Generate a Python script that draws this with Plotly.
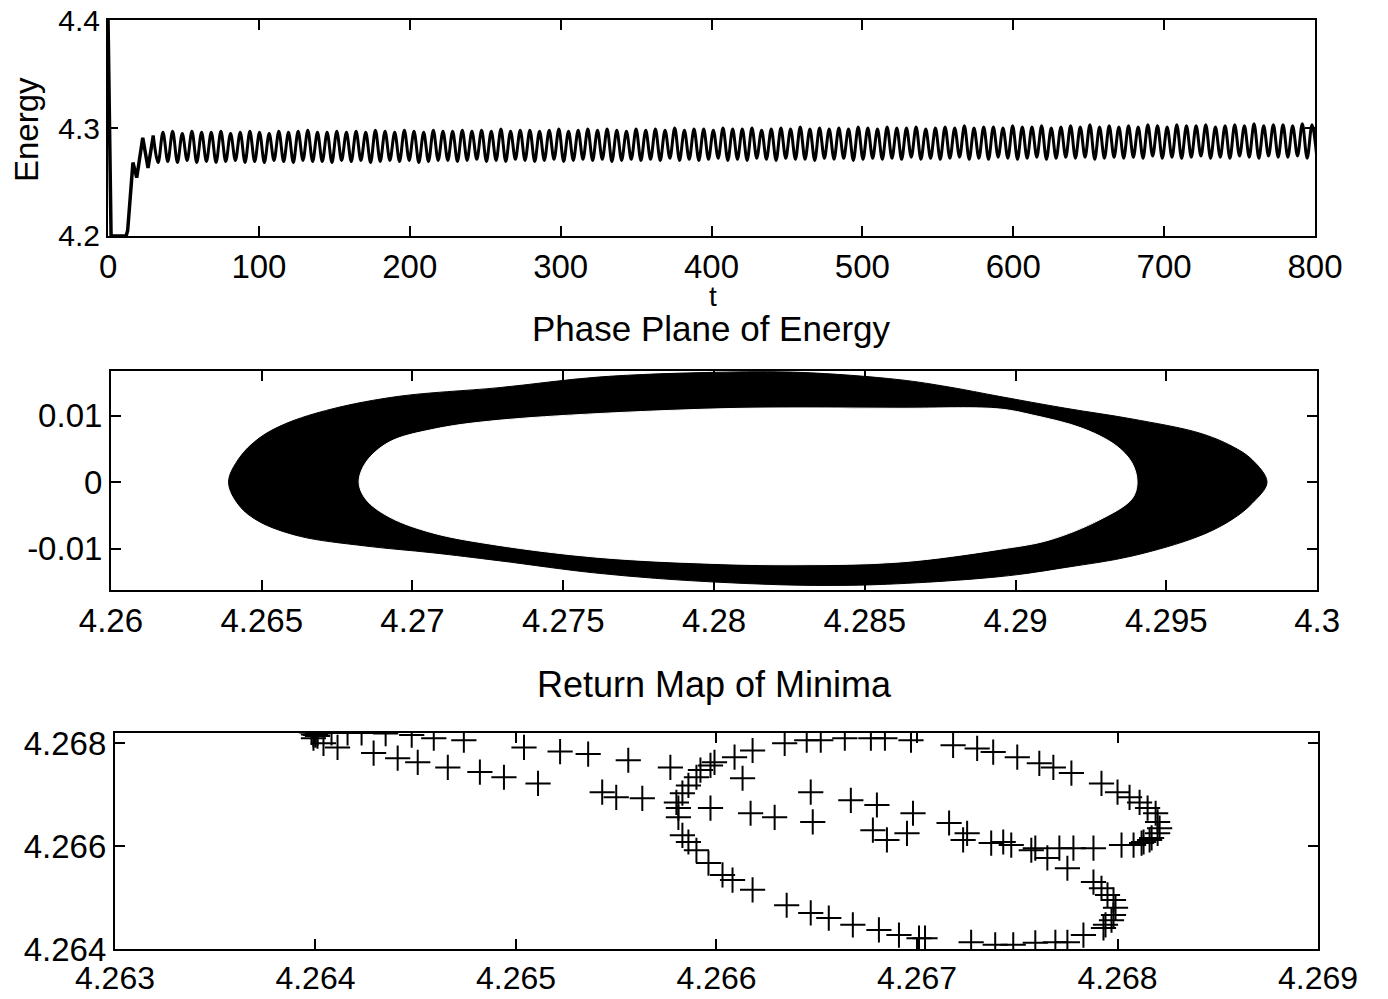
import plotly.graph_objects as go
from plotly.subplots import make_subplots

# --- top panel: energy vs t -------------------------------------------------
# start-up transient (explicit points)
t_start = [0, 2, 12, 13, 16.5, 19, 23, 26.5, 30]
e_start = [4.40, 4.20, 4.20, 4.205, 4.268, 4.254, 4.291, 4.263, 4.293]

# steady oscillation, sampled every half period (3.2) from t = 30
half_period = 3.2
peaks = [
    4.296, 4.297, 4.295, 4.297, 4.296, 4.296, 4.297, 4.295, 4.296, 4.297,
    4.296, 4.295, 4.297, 4.296, 4.297, 4.298, 4.296, 4.296, 4.297, 4.296,
    4.297, 4.296, 4.298, 4.297, 4.296, 4.298, 4.297, 4.296, 4.298, 4.297,
    4.297, 4.298, 4.297, 4.298, 4.297, 4.299, 4.297, 4.298, 4.298, 4.297,
    4.298, 4.299, 4.297, 4.298, 4.299, 4.298, 4.299, 4.298, 4.297, 4.299,
    4.298, 4.299, 4.298, 4.300, 4.298, 4.299, 4.299, 4.298, 4.300, 4.299,
    4.299, 4.300, 4.298, 4.299, 4.300, 4.299, 4.301, 4.299, 4.300, 4.299,
    4.300, 4.299, 4.301, 4.300, 4.299, 4.301, 4.300, 4.300, 4.301, 4.299,
    4.300, 4.301, 4.300, 4.302, 4.300, 4.301, 4.301, 4.300, 4.302, 4.301,
    4.301, 4.302, 4.300, 4.301, 4.302, 4.301, 4.303, 4.301, 4.302, 4.301,
    4.302, 4.301, 4.303, 4.302, 4.301, 4.303, 4.302, 4.302, 4.303, 4.301,
    4.302, 4.303, 4.302, 4.304, 4.302, 4.303, 4.303, 4.302, 4.304, 4.303,
]
troughs = [
    4.268, 4.269, 4.268, 4.270, 4.268, 4.269, 4.268, 4.269, 4.270, 4.268,
    4.269, 4.268, 4.270, 4.269, 4.268, 4.270, 4.269, 4.269, 4.268, 4.270,
    4.269, 4.270, 4.268, 4.269, 4.270, 4.269, 4.270, 4.268, 4.269, 4.270,
    4.270, 4.269, 4.270, 4.271, 4.269, 4.270, 4.269, 4.271, 4.270, 4.269,
    4.270, 4.271, 4.269, 4.270, 4.271, 4.270, 4.271, 4.269, 4.270, 4.271,
    4.270, 4.271, 4.270, 4.272, 4.270, 4.271, 4.270, 4.271, 4.272, 4.270,
    4.271, 4.270, 4.272, 4.271, 4.270, 4.272, 4.271, 4.271, 4.270, 4.272,
    4.271, 4.272, 4.270, 4.271, 4.272, 4.271, 4.272, 4.271, 4.273, 4.271,
    4.272, 4.271, 4.272, 4.273, 4.271, 4.272, 4.271, 4.273, 4.272, 4.271,
    4.272, 4.273, 4.271, 4.272, 4.273, 4.272, 4.273, 4.271, 4.272, 4.273,
    4.272, 4.273, 4.272, 4.274, 4.272, 4.273, 4.272, 4.273, 4.274, 4.272,
    4.273, 4.272, 4.274, 4.273, 4.272, 4.274, 4.273, 4.273, 4.274, 4.272,
    4.273,
]

# --- middle panel: phase plane band (outer and inner boundary) --------------
outer_e = [4.2639, 4.26425, 4.26491, 4.2658, 4.26733, 4.26955, 4.27287, 4.27619,
           4.2800, 4.28282, 4.28614, 4.28779, 4.28945, 4.29167, 4.29386, 4.29609,
           4.29718, 4.29784, 4.29834,
           4.29784, 4.29718, 4.29609, 4.29386, 4.29167, 4.28945, 4.28448, 4.2800,
           4.27619, 4.27287, 4.27065, 4.26846, 4.26624, 4.26491, 4.26425, 4.2639]
outer_de = [0.0, 0.0036, 0.0066, 0.0088, 0.0110, 0.0129, 0.0142, 0.0158,
            0.0165, 0.0165, 0.0154, 0.0143, 0.0129, 0.0111, 0.0095, 0.0074,
            0.0054, 0.0034, 0.0,
            -0.0032, -0.0056, -0.0081, -0.0111, -0.0128, -0.0142, -0.0155, -0.0150,
            -0.0137, -0.0118, -0.0106, -0.0096, -0.0081, -0.0059, -0.0035, 0.0]
inner_e = [4.26823, 4.26846, 4.26922, 4.27065, 4.27287, 4.2800, 4.28614, 4.28945,
           4.29055, 4.29221, 4.29333, 4.29386, 4.29403,
           4.29386, 4.29277, 4.29111, 4.28945, 4.28614, 4.2828, 4.2800, 4.27619,
           4.27287, 4.27065, 4.26922, 4.26846, 4.26823]
inner_de = [0.0, 0.0030, 0.0060, 0.0079, 0.0093, 0.0110, 0.0111, 0.0110,
            0.0101, 0.0081, 0.0055, 0.0029, 0.0,
            -0.0025, -0.0057, -0.0087, -0.0101, -0.0120, -0.0124, -0.0122, -0.0113,
            -0.0095, -0.0076, -0.0052, -0.0026, 0.0]

# --- bottom panel: return map of minima -------------------------------------
min_n = [4.26398, 4.26399, 4.26400, 4.26401, 4.26401, 4.26399,
         4.26408, 4.26416, 4.26423, 4.26435, 4.26448, 4.26459, 4.26474, 4.26504,
         4.26522, 4.26536, 4.26556, 4.26577,
         4.26404, 4.26411, 4.26429, 4.26441, 4.26451, 4.26466, 4.26482, 4.26494,
         4.26511, 4.26543, 4.26550, 4.26563,
         4.26599, 4.26597, 4.26592, 4.26590, 4.26586, 4.26583, 4.26580, 4.26581,
         4.26581, 4.26583, 4.26586, 4.26590, 4.26596, 4.26603, 4.26608, 4.26618,
         4.26635, 4.26647, 4.26656, 4.26668, 4.26681, 4.26691, 4.26701, 4.26704,
         4.26727, 4.26739, 4.26748, 4.26759, 4.26769, 4.26775, 4.26783, 4.26793,
         4.26794, 4.26797, 4.26798, 4.26799, 4.26798, 4.26795, 4.26792, 4.26788,
         4.26609, 4.26618, 4.26634, 4.26645, 4.26652, 4.26664, 4.26677, 4.26684,
         4.26697, 4.26718, 4.26730, 4.26738, 4.26750, 4.26761, 4.26768, 4.26777,
         4.26792, 4.26800, 4.26806, 4.26811, 4.26815, 4.26819, 4.26820, 4.26821,
         4.26820, 4.26817, 4.26813, 4.26808, 4.26802,
         4.26613, 4.26597, 4.26617, 4.26629, 4.26648, 4.26647, 4.26667, 4.26680,
         4.26698, 4.26678, 4.26685, 4.26695, 4.26716, 4.26725, 4.26723, 4.26737,
         4.26743, 4.26747, 4.26757, 4.26759, 4.26765, 4.26771, 4.26778, 4.26788,
         4.26775, 4.26812, 4.26816]
min_n1 = [4.26821, 4.26817, 4.26816, 4.26819, 4.26814, 4.26810,
          4.26820, 4.26820, 4.26820, 4.26819, 4.26816, 4.26810, 4.26806, 4.26792,
          4.26784, 4.26779, 4.26767, 4.26753,
          4.26800, 4.26792, 4.26781, 4.26771, 4.26763, 4.26753, 4.26744, 4.26734,
          4.26722, 4.26705, 4.26695, 4.26693,
          4.26763, 4.26757, 4.26748, 4.26734, 4.26718, 4.26703, 4.26685, 4.26674,
          4.26656, 4.26621, 4.26608, 4.26592, 4.26567, 4.26544, 4.26534, 4.26515,
          4.26485, 4.26470, 4.26460, 4.26447, 4.26437, 4.26427, 4.26421, 4.26421,
          4.26413, 4.26408, 4.26408, 4.26412, 4.26413, 4.26413, 4.26427, 4.26441,
          4.26447, 4.26456, 4.26466, 4.26480, 4.26495, 4.26505, 4.26518, 4.26530,
          4.26773, 4.26786, 4.26800, 4.26806, 4.26806, 4.26810, 4.26810, 4.26810,
          4.26806, 4.26796, 4.26790, 4.26783, 4.26773, 4.26761, 4.26753, 4.26742,
          4.26722, 4.26705, 4.26695, 4.26685, 4.26674, 4.26664, 4.26647, 4.26635,
          4.26625, 4.26616, 4.26608, 4.26602, 4.26602,
          4.26732, 4.26674, 4.26664, 4.26656, 4.26647, 4.26705, 4.26689, 4.26680,
          4.26664, 4.26631, 4.26612, 4.26625, 4.26645, 4.26625, 4.26612, 4.26606,
          4.26608, 4.26602, 4.26592, 4.26596, 4.26577, 4.26596, 4.26596, 4.26596,
          4.26557, 4.26606, 4.26612]

FONT = "Liberation Sans, Arial, Helvetica, sans-serif"

osc = [v for pair in zip(troughs, peaks) for v in pair] + [troughs[-1]]
osc = [e_start[-1]] + osc

fig = make_subplots(rows=3, cols=1)

fig.add_trace(go.Scatter(x=t_start, y=e_start, mode="lines",
                         line=dict(color="black", width=3.5)), row=1, col=1)
fig.add_trace(go.Scatter(x0=t_start[-1], dx=half_period, y=osc, mode="lines",
                         line=dict(color="black", width=3, shape="spline")),
              row=1, col=1)

fig.add_trace(go.Scatter(x=outer_e, y=outer_de, mode="lines", fill="toself",
                         fillcolor="black", line=dict(color="black", width=1, shape="spline")),
              row=2, col=1)
fig.add_trace(go.Scatter(x=inner_e, y=inner_de, mode="lines", fill="toself",
                         fillcolor="white", line=dict(color="white", width=1, shape="spline")),
              row=2, col=1)

fig.add_trace(go.Scatter(x=min_n, y=min_n1, mode="markers",
                         marker=dict(symbol="cross-thin", size=18,
                                     line=dict(color="black", width=2))),
              row=3, col=1)

axis_style = dict(showgrid=False, zeroline=False, showline=True, linecolor="black",
                  linewidth=2, mirror="ticks", ticks="inside", ticklen=10,
                  tickwidth=2, tickcolor="black", automargin=False,
                  ticklabeloverflow="allow",
                  tickfont=dict(family=FONT, size=33, color="black"))

fig.update_xaxes(**axis_style)
fig.update_yaxes(**axis_style)


def label(text, x, y, size, angle=0):
    return dict(text=text, x=x, y=y, xref="paper", yref="paper",
                xanchor="center", yanchor="middle", textangle=angle,
                showarrow=False, font=dict(size=size))


# page body has an 8px offset, so the figure is 1380 x 991
fig.update_layout(
    xaxis=dict(domain=[0.0725, 0.9471], range=[0, 800],
               tickvals=[0, 100, 200, 300, 400, 500, 600, 700, 800]),
    yaxis=dict(domain=[0.7699, 0.9879], range=[4.1999, 4.4001],
               tickvals=[4.2, 4.3, 4.4], ticktext=["4.2", "4.3", "4.4"],
               tickfont=dict(size=30)),
    xaxis2=dict(domain=[0.0746, 0.9486], range=[4.26, 4.30],
                tickvals=[4.26, 4.265, 4.27, 4.275, 4.28, 4.285, 4.29, 4.295, 4.3],
                ticktext=["4.26", "4.265", "4.27", "4.275", "4.28", "4.285",
                          "4.29", "4.295", "4.3"]),
    yaxis2=dict(domain=[0.4127, 0.6337], range=[-0.0162, 0.0167],
                tickvals=[-0.01, 0, 0.01], ticktext=["-0.01", "0", "0.01"]),
    xaxis3=dict(domain=[0.0775, 0.9493], range=[4.263, 4.269],
                tickvals=[4.263, 4.264, 4.265, 4.266, 4.267, 4.268, 4.269],
                ticktext=["4.263", "4.264", "4.265", "4.266", "4.267", "4.268", "4.269"],
                tickfont=dict(size=32)),
    yaxis3=dict(domain=[0.0505, 0.2684], range=[4.264, 4.2682],
                tickvals=[4.264, 4.266, 4.268], ticktext=["4.264", "4.266", "4.268"]),
    width=1380, height=991,
    margin=dict(l=0, r=0, t=0, b=0),
    showlegend=False,
    paper_bgcolor="white", plot_bgcolor="white",
    font=dict(family=FONT, color="black"),
    annotations=[
        label("t", 0.5109, 0.7085, 28),
        label("Energy", 0.0138, 0.8769, 33, angle=-90),
        label("Phase Plane of Energy", 0.5101, 0.6761, 35),
        label("Return Map of Minima", 0.5123, 0.3169, 36),
    ],
)

fig.write_html("out.html")
